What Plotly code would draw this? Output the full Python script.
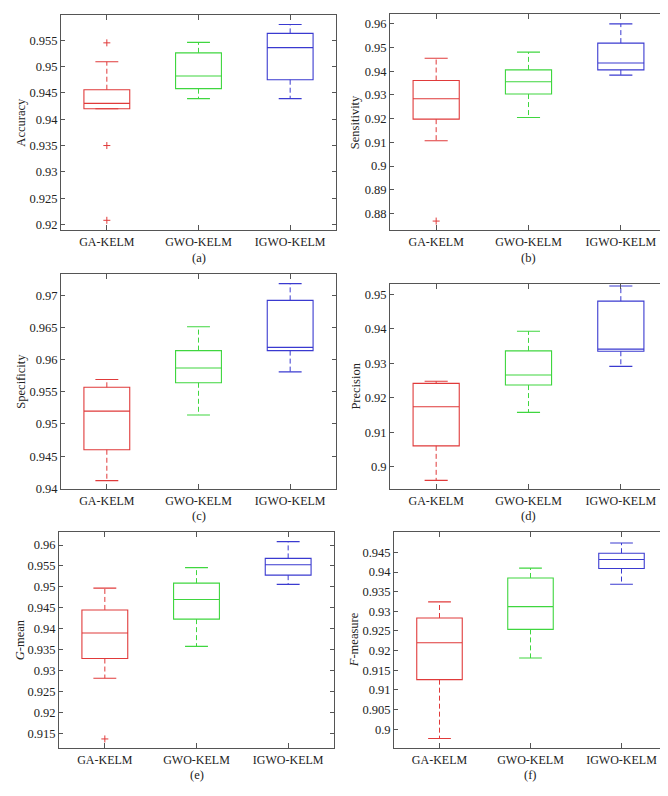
import plotly.graph_objects as go
from plotly.subplots import make_subplots

algorithms = ["GA-KELM", "GWO-KELM", "IGWO-KELM"]
colors = ["#e03a3a", "#3fd63f", "#3a3ad0"]

# Accuracy
acc_lo = [0.9420, 0.9439, 0.9439]
acc_q1 = [0.9420, 0.9458, 0.9475]
acc_med = [0.9430, 0.9482, 0.9536]
acc_q3 = [0.9456, 0.9526, 0.9563]
acc_hi = [0.9509, 0.9546, 0.9580]
acc_out = [[0.9545, 0.9350, 0.9208], [], []]

# Sensitivity
sen_lo = [0.9107, 0.9205, 0.9384]
sen_q1 = [0.9198, 0.9304, 0.9406]
sen_med = [0.9284, 0.9356, 0.9435]
sen_q3 = [0.9361, 0.9406, 0.9519]
sen_hi = [0.9455, 0.9481, 0.9600]
sen_out = [[0.8768], [], []]

# Specificity
spe_lo = [0.9412, 0.9514, 0.9581]
spe_q1 = [0.9460, 0.9564, 0.9614]
spe_med = [0.9520, 0.9587, 0.9619]
spe_q3 = [0.9557, 0.9614, 0.9692]
spe_hi = [0.9569, 0.9651, 0.9718]
spe_out = [[], [], []]

# Precision
pre_lo = [0.8961, 0.9158, 0.9291]
pre_q1 = [0.9061, 0.9237, 0.9335]
pre_med = [0.9174, 0.9266, 0.9341]
pre_q3 = [0.9242, 0.9336, 0.9480]
pre_hi = [0.9248, 0.9393, 0.9524]
pre_out = [[], [], []]

# G-mean
gm_lo = [0.9282, 0.9358, 0.9506]
gm_q1 = [0.9329, 0.9423, 0.9528]
gm_med = [0.9390, 0.9470, 0.9553]
gm_q3 = [0.9445, 0.9509, 0.9568]
gm_hi = [0.9497, 0.9546, 0.9608]
gm_out = [[0.9137], [], []]

# F-measure
fm_lo = [0.8976, 0.9181, 0.9369]
fm_q1 = [0.9126, 0.9254, 0.9409]
fm_med = [0.9220, 0.9312, 0.9432]
fm_q3 = [0.9283, 0.9385, 0.9448]
fm_hi = [0.9324, 0.9410, 0.9474]
fm_out = [[], [], []]

# tick values
acc_ticks = [0.92, 0.925, 0.93, 0.935, 0.94, 0.945, 0.95, 0.955]
sen_ticks = [0.88, 0.89, 0.90, 0.91, 0.92, 0.93, 0.94, 0.95, 0.96]
spe_ticks = [0.94, 0.945, 0.95, 0.955, 0.96, 0.965, 0.97]
pre_ticks = [0.90, 0.91, 0.92, 0.93, 0.94, 0.95]
gm_ticks = [0.915, 0.92, 0.925, 0.93, 0.935, 0.94, 0.945, 0.95, 0.955, 0.96]
fm_ticks = [0.90, 0.905, 0.91, 0.915, 0.92, 0.925, 0.93, 0.935, 0.94, 0.945]

titles = ["Accuracy", "Sensitivity", "Specificity", "Precision", "<i>G</i>-mean", "<i>F</i>-measure"]
captions = ["(a)", "(b)", "(c)", "(d)", "(e)", "(f)"]

W, H = 668, 796
FONT = "Liberation Serif"

panels = [
    dict(stats=(acc_lo, acc_q1, acc_med, acc_q3, acc_hi, acc_out), ticks=acc_ticks,
         yr=[0.9189, 0.9598], px=(53, 328, 7, 224), ty=13, cy=252),
    dict(stats=(sen_lo, sen_q1, sen_med, sen_q3, sen_hi, sen_out), ticks=sen_ticks,
         yr=[0.8729, 0.9642], px=(382, 659, 6, 224), ty=347, cy=252),
    dict(stats=(spe_lo, spe_q1, spe_med, spe_q3, spe_hi, spe_out), ticks=spe_ticks,
         yr=[0.93985, 0.9733], px=(53, 328, 268, 485), ty=13, cy=512),
    dict(stats=(pre_lo, pre_q1, pre_med, pre_q3, pre_hi, pre_out), ticks=pre_ticks,
         yr=[0.8935, 0.9530], px=(382, 659, 278, 485), ty=348, cy=512),
    dict(stats=(gm_lo, gm_q1, gm_med, gm_q3, gm_hi, gm_out), ticks=gm_ticks,
         yr=[0.91145, 0.9631], px=(51, 326, 528, 746), ty=12, cy=773),
    dict(stats=(fm_lo, fm_q1, fm_med, fm_q3, fm_hi, fm_out), ticks=fm_ticks,
         yr=[0.8951, 0.9502], px=(386, 659, 528, 746), ty=346, cy=773),
]

fig = make_subplots(rows=3, cols=2)

BOX_W = 0.5
CAP_HALF = 0.125
positions = [1, 2, 3]

annotations = []
for k, p in enumerate(panels):
    row, col = k // 2 + 1, k % 2 + 1
    lo, q1, med, q3, hi, out = p["stats"]
    for i in range(3):
        x = positions[i]
        c = colors[i]
        fig.add_trace(go.Box(x=[x], q1=[q1[i]], median=[med[i]], q3=[q3[i]],
                             lowerfence=[q1[i]], upperfence=[q3[i]], width=BOX_W,
                             line=dict(color=c, width=1.1), fillcolor="rgba(0,0,0,0)",
                             boxpoints=False, showlegend=False, hoverinfo="skip"),
                      row=row, col=col)
        fig.add_trace(go.Scatter(x=[x, x, None, x, x], y=[q3[i], hi[i], None, q1[i], lo[i]],
                                 mode="lines", line=dict(color=c, width=1, dash="5px,3px"),
                                 showlegend=False, hoverinfo="skip"), row=row, col=col)
        fig.add_trace(go.Scatter(x=[x - CAP_HALF, x + CAP_HALF, None, x - CAP_HALF, x + CAP_HALF],
                                 y=[hi[i], hi[i], None, lo[i], lo[i]],
                                 mode="lines", line=dict(color=c, width=1.1),
                                 showlegend=False, hoverinfo="skip"), row=row, col=col)
        if out[i]:
            fig.add_trace(go.Scatter(x=[x] * len(out[i]), y=out[i], mode="markers",
                                     marker=dict(symbol="cross-thin", size=5, color=c,
                                                 line=dict(color=c, width=1)),
                                     showlegend=False, hoverinfo="skip"), row=row, col=col)
    x0, x1, y0, y1 = p["px"]
    axn = "" if k == 0 else str(k + 1)
    fig.layout["xaxis" + axn].update(
        domain=[x0 / W, x1 / W], range=[0.5, 3.5], tickvals=positions, ticktext=algorithms,
        ticks="inside", ticklen=5, tickcolor="#555", showline=True, linecolor="#555",
        linewidth=1, mirror="ticks", showgrid=False, zeroline=False,
        tickfont=dict(family=FONT, size=12, color="#222"))
    fig.layout["yaxis" + axn].update(
        domain=[1 - y1 / H, 1 - y0 / H], range=p["yr"], tickvals=p["ticks"],
        ticktext=[f"{v:g}" for v in p["ticks"]],
        ticks="inside", ticklen=4, tickcolor="#555", showline=True, linecolor="#555",
        linewidth=1, mirror="ticks", showgrid=False, zeroline=False,
        tickfont=dict(family=FONT, size=12.5, color="#222"))
    annotations.append(dict(text=titles[k], x=p["ty"] / W, y=1 - (y0 + y1) / 2 / H,
                            xref="paper", yref="paper", showarrow=False, textangle=-90,
                            xanchor="center", yanchor="middle",
                            font=dict(family=FONT, size=12.5, color="#222")))
    annotations.append(dict(text=captions[k], x=(x0 + x1) / 2 / W, y=1 - p["cy"] / H,
                            xref="paper", yref="paper", showarrow=False,
                            xanchor="center", yanchor="middle",
                            font=dict(family=FONT, size=12.5, color="#222")))

fig.update_layout(width=W, height=H, margin=dict(l=0, r=0, t=0, b=0),
                  paper_bgcolor="white", plot_bgcolor="white",
                  annotations=annotations, boxgap=0, boxgroupgap=0)

fig.write_html("out.html")
